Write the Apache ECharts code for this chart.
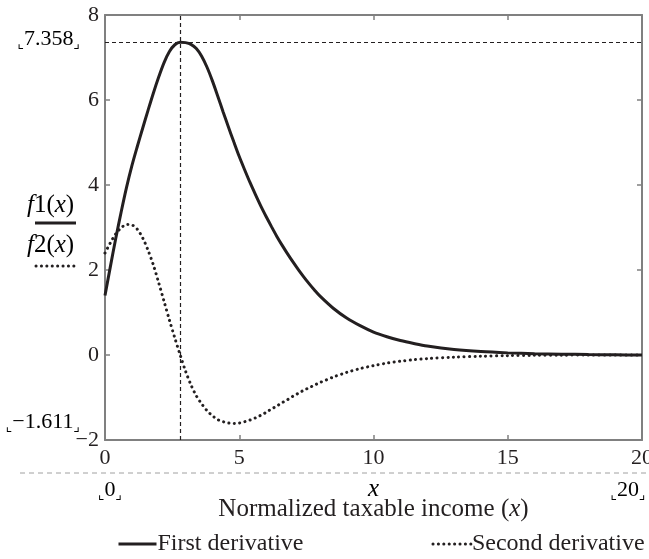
<!DOCTYPE html>
<html>
<head>
<meta charset="utf-8">
<script src="https://cdn.jsdelivr.net/npm/echarts@6/dist/echarts.min.js"></script>
<style>
html,body{margin:0;padding:0;background:#fff;}
#main{width:649px;height:559px;}
</style>
</head>
<body>
<div id="main"></div>
<script>
// ---- data ----
const xValues = [0, 0.2, 0.4, 0.6, 0.8, 1.0, 1.2, 1.4, 1.6, 1.8, 2.0, 2.2, 2.4, 2.6, 2.8, 3.0, 3.2, 3.4, 3.6, 3.8, 4.0, 4.2, 4.4, 4.6, 4.8, 5.0, 5.2, 5.4, 5.6, 5.8, 6.0, 6.2, 6.4, 6.6, 6.8, 7.0, 7.2, 7.4, 7.6, 7.8, 8.0, 8.5, 9.0, 9.5, 10, 10.5, 11, 11.5, 12, 13, 14, 15, 16, 17, 18, 19, 20];
const firstDerivative = [1.40, 2.08, 2.74, 3.36, 3.94, 4.45, 4.90, 5.33, 5.75, 6.16, 6.54, 6.88, 7.14, 7.30, 7.358, 7.35, 7.31, 7.21, 7.03, 6.77, 6.45, 6.09, 5.72, 5.36, 5.01, 4.67, 4.36, 4.06, 3.78, 3.51, 3.26, 3.02, 2.79, 2.58, 2.38, 2.19, 2.01, 1.84, 1.68, 1.53, 1.39, 1.10, 0.87, 0.69, 0.54, 0.43, 0.34, 0.27, 0.21, 0.13, 0.08, 0.05, 0.03, 0.02, 0.01, 0.005, 0.0];
const secondDerivative = [2.40, 2.64, 2.85, 2.99, 3.07, 3.06, 2.96, 2.76, 2.47, 2.12, 1.70, 1.26, 0.82, 0.40, 0.0, -0.38, -0.70, -0.96, -1.15, -1.31, -1.43, -1.52, -1.57, -1.60, -1.611, -1.60, -1.57, -1.53, -1.48, -1.42, -1.35, -1.27, -1.20, -1.12, -1.05, -0.97, -0.90, -0.83, -0.77, -0.71, -0.65, -0.52, -0.41, -0.32, -0.25, -0.19, -0.145, -0.11, -0.085, -0.05, -0.03, -0.015, -0.008, -0.004, 0, 0, 0];
const peakX = 2.8;
const peakY = 7.358;
const minY = -1.611;
const xMin = 0, xMax = 20, xStep = 5;
const yMin = -2, yMax = 8, yStep = 2;
const seriesNames = ['First derivative', 'Second derivative'];
const xAxisTitle = 'Normalized taxable income (';

const FONT = '"Liberation Serif", "DejaVu Serif", serif';
const INK = '#231f20';
const AXIS = '#808080';
const SOLID = {color: INK, width: 3};
const DOTTED = {color: INK, width: 3, type: [0.1, 5.3], cap: 'round'};

const chart = echarts.init(document.getElementById('main'), null, {renderer: 'canvas'});

function axisCommon() {
  return {
    axisLine: {show: true, onZero: false, lineStyle: {color: AXIS, width: 2}},
    axisTick: {show: true, inside: true, length: 5, lineStyle: {color: AXIS, width: 1.5}},
    splitLine: {show: false}
  };
}

const labelStyle = {color: INK, fontFamily: FONT, fontSize: 22};

const option = {
  animation: false,
  backgroundColor: '#fff',
  grid: {left: 105, right: 7, top: 15, bottom: 119, containLabel: false, outerBoundsMode: 'none'},
  xAxis: [
    Object.assign({
      type: 'value', min: xMin, max: xMax, interval: xStep, position: 'bottom',
      axisLabel: Object.assign({margin: 7}, labelStyle),
      name: xAxisTitle + '{i|x})',
      nameLocation: 'middle', nameGap: 57,
      nameTextStyle: {color: INK, fontFamily: FONT, fontSize: 25,
        rich: {i: {fontStyle: 'italic', fontFamily: FONT, fontSize: 25, color: INK}}}
    }, axisCommon()),
    Object.assign({
      type: 'value', min: xMin, max: xMax, interval: xStep, position: 'top',
      axisLabel: {show: false}
    }, axisCommon())
  ],
  yAxis: [
    Object.assign({
      type: 'value', min: yMin, max: yMax, interval: yStep, position: 'left',
      axisLabel: Object.assign({margin: 6, formatter: v => String(v).replace('-', '\u2212')}, labelStyle)
    }, axisCommon()),
    Object.assign({
      type: 'value', min: yMin, max: yMax, interval: yStep, position: 'right',
      axisLabel: {show: false}
    }, axisCommon())
  ],
  legend: {
    left: 117, top: 532, width: 532, padding: 0,
    itemWidth: 38, itemHeight: 12, itemGap: 128,
    itemStyle: {opacity: 0},
    textStyle: {color: INK, fontFamily: FONT, fontSize: 24, padding: [0, 0, 0, -4]},
    data: [
      {name: seriesNames[0], lineStyle: SOLID},
      {name: seriesNames[1], lineStyle: DOTTED}
    ]
  },
  series: [
    {
      name: seriesNames[0], type: 'line', smooth: 0.3, symbol: 'none',
      data: xValues.map((x, i) => [x, firstDerivative[i]]),
      lineStyle: SOLID,
      itemStyle: {color: INK},
      z: 3,
      markLine: {
        silent: true, symbol: 'none',
        label: {show: false},
        lineStyle: {color: INK, width: 1.2, type: [4, 3]},
        data: [{xAxis: peakX}, {yAxis: peakY}]
      }
    },
    {
      name: seriesNames[1], type: 'line', smooth: 0.3, symbol: 'none',
      data: xValues.map((x, i) => [x, secondDerivative[i]]),
      lineStyle: DOTTED,
      itemStyle: {color: INK},
      z: 3
    }
  ]
};
chart.setOption(option);

// ---- annotations positioned through the axes ----
const pPeak = chart.convertToPixel({xAxisIndex: 0, yAxisIndex: 0}, [xMin, peakY]);
const pMin = chart.convertToPixel({xAxisIndex: 0, yAxisIndex: 0}, [xMin, minY]);
const p0 = chart.convertToPixel({xAxisIndex: 0, yAxisIndex: 0}, [xMin, yMin]);
const p20 = chart.convertToPixel({xAxisIndex: 0, yAxisIndex: 0}, [xMax, yMin]);
const midX = (p0[0] + p20[0]) / 2;

const cornerRich = {
  c: {fontFamily: '"DejaVu Sans", sans-serif', fontSize: 14, color: '#333', verticalAlign: 'bottom', padding: [10, 0, 0, 0]},
  t: {fontFamily: FONT, fontSize: 22, color: INK}
};
const bracket = (s) => '{c|\u231E}{t|' + s + '}{c|\u231F}';

const fRich = {
  i: {fontFamily: FONT, fontStyle: 'italic', fontSize: 25, color: INK},
  u: {fontFamily: FONT, fontSize: 25, color: INK}
};

chart.setOption({
  graphic: [
    {type: 'text', right: 649 - 80, top: pPeak[1] - 14, style: {text: bracket('7.358'), rich: cornerRich}},
    {type: 'text', right: 649 - 80, top: pMin[1] - 12, style: {text: bracket('\u22121.611'), rich: cornerRich}},
    // stacked y-axis label with line samples
    {type: 'text', left: 27, top: 193, style: {text: '{i|f}{u|1(}{i|x}{u|)}', rich: fRich}},
    {type: 'line', shape: {x1: 35, y1: 223, x2: 76, y2: 223}, style: {stroke: INK, lineWidth: 3}},
    {type: 'text', left: 27, top: 233, style: {text: '{i|f}{u|2(}{i|x}{u|)}', rich: fRich}},
    {type: 'line', shape: {x1: 36, y1: 266, x2: 74, y2: 266}, style: {stroke: INK, lineWidth: 3, lineDash: [0.1, 5.3], lineCap: 'round'}},
    // lower dashed rule and range labels
    {type: 'line', shape: {x1: 20, y1: 473, x2: 649, y2: 473}, style: {stroke: '#a0a0a0', lineWidth: 1, lineDash: [5, 4]}},
    {type: 'text', x: p0[0] + 5, y: 490, style: {text: bracket('0'), rich: cornerRich, align: 'center', verticalAlign: 'middle'}},
    {type: 'text', x: midX, y: 489, style: {text: '{i|x}', rich: fRich, align: 'center', verticalAlign: 'middle'}},
    {type: 'text', x: p20[0] - 14, y: 490, style: {text: bracket('20'), rich: cornerRich, align: 'center', verticalAlign: 'middle'}}
  ]
});
</script>
</body>
</html>
